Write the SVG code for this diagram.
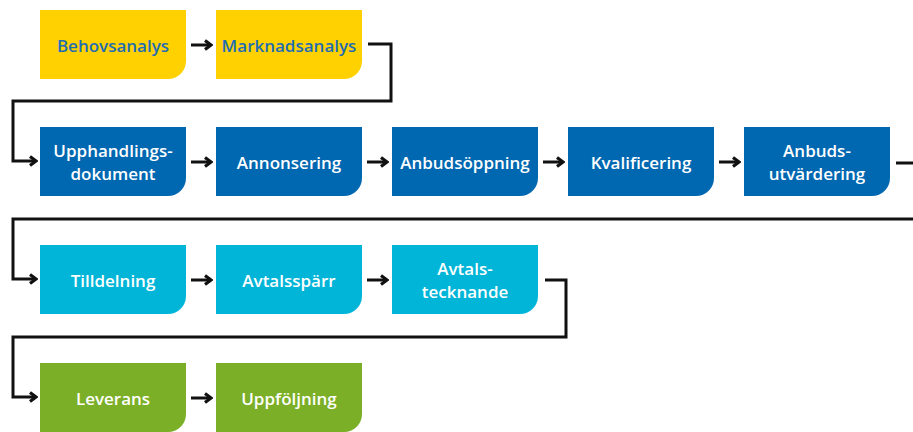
<svg xmlns="http://www.w3.org/2000/svg" width="913" height="432" viewBox="0 0 913 432">
<defs>
<style>
.lbl{font-family:"Open Sans","Liberation Sans",sans-serif;font-weight:600;font-size:17px;text-anchor:middle;dominant-baseline:central}
.y{fill:#FFD100}.b{fill:#0067B1}.c{fill:#00B5D8}.g{fill:#7BAF27}
.ty{fill:#1E6DB4}.tw{fill:#FFFFFF}
.con{fill:none;stroke:#111;stroke-width:3;stroke-linejoin:miter}
</style>
<marker id="ah" viewBox="0 0 10 12" refX="8" refY="6" markerWidth="10" markerHeight="12" markerUnits="userSpaceOnUse" orient="auto">
<path d="M2,1.5 L8,6 L2,10.5" fill="none" stroke="#111" stroke-width="3.2"/>
</marker>
</defs>
<rect width="913" height="432" fill="#FFFFFF"/>
<g id="n1"><path class="y" d="M40,10 h146 v51 a18,18 0 0 1 -18,18 h-128 z"/><text class="lbl ty" x="113" y="45">Behovsanalys</text></g>
<g id="n2"><path class="y" d="M216,10 h146 v51 a18,18 0 0 1 -18,18 h-128 z"/><text class="lbl ty" x="289" y="45">Marknadsanalys</text></g>
<g id="n3"><path class="b" d="M40,127 h146 v51 a18,18 0 0 1 -18,18 h-128 z"/><text class="lbl tw" x="113" y="150">Upphandlings-</text><text class="lbl tw" x="113" y="173">dokument</text></g>
<g id="n4"><path class="b" d="M216,127 h146 v51 a18,18 0 0 1 -18,18 h-128 z"/><text class="lbl tw" x="289" y="162">Annonsering</text></g>
<g id="n5"><path class="b" d="M392,127 h146 v51 a18,18 0 0 1 -18,18 h-128 z"/><text class="lbl tw" x="465" y="162">Anbudsöppning</text></g>
<g id="n6"><path class="b" d="M568,127 h146 v51 a18,18 0 0 1 -18,18 h-128 z"/><text class="lbl tw" x="641" y="162">Kvalificering</text></g>
<g id="n7"><path class="b" d="M744,127 h146 v51 a18,18 0 0 1 -18,18 h-128 z"/><text class="lbl tw" x="817" y="150">Anbuds-</text><text class="lbl tw" x="817" y="173">utvärdering</text></g>
<g id="n8"><path class="c" d="M40,245 h146 v51 a18,18 0 0 1 -18,18 h-128 z"/><text class="lbl tw" x="113" y="280">Tilldelning</text></g>
<g id="n9"><path class="c" d="M216,245 h146 v51 a18,18 0 0 1 -18,18 h-128 z"/><text class="lbl tw" x="289" y="280">Avtalsspärr</text></g>
<g id="n10"><path class="c" d="M392,245 h146 v51 a18,18 0 0 1 -18,18 h-128 z"/><text class="lbl tw" x="465" y="268">Avtals-</text><text class="lbl tw" x="465" y="291">tecknande</text></g>
<g id="n11"><path class="g" d="M40,363 h146 v51 a18,18 0 0 1 -18,18 h-128 z"/><text class="lbl tw" x="113" y="398">Leverans</text></g>
<g id="n12"><path class="g" d="M216,363 h146 v51 a18,18 0 0 1 -18,18 h-128 z"/><text class="lbl tw" x="289" y="398">Uppföljning</text></g>
<g id="connectors">
<path class="con" marker-end="url(#ah)" d="M191,45 H211"/>
<path class="con" d="M368,44 H391 V101 H13 V161 H36" marker-end="url(#ah)"/>
<path class="con" marker-end="url(#ah)" d="M191,162 H211"/>
<path class="con" marker-end="url(#ah)" d="M367,162 H387"/>
<path class="con" marker-end="url(#ah)" d="M543,162 H563"/>
<path class="con" marker-end="url(#ah)" d="M719,162 H739"/>
<path class="con" d="M896,163 H913"/>
<path class="con" d="M913,219 H13 V279 H36" marker-end="url(#ah)"/>
<path class="con" marker-end="url(#ah)" d="M191,280 H211"/>
<path class="con" marker-end="url(#ah)" d="M367,280 H387"/>
<path class="con" d="M545,280 H566 V337 H13 V397 H36" marker-end="url(#ah)"/>
<path class="con" marker-end="url(#ah)" d="M191,398 H211"/>
</g>
</svg>
